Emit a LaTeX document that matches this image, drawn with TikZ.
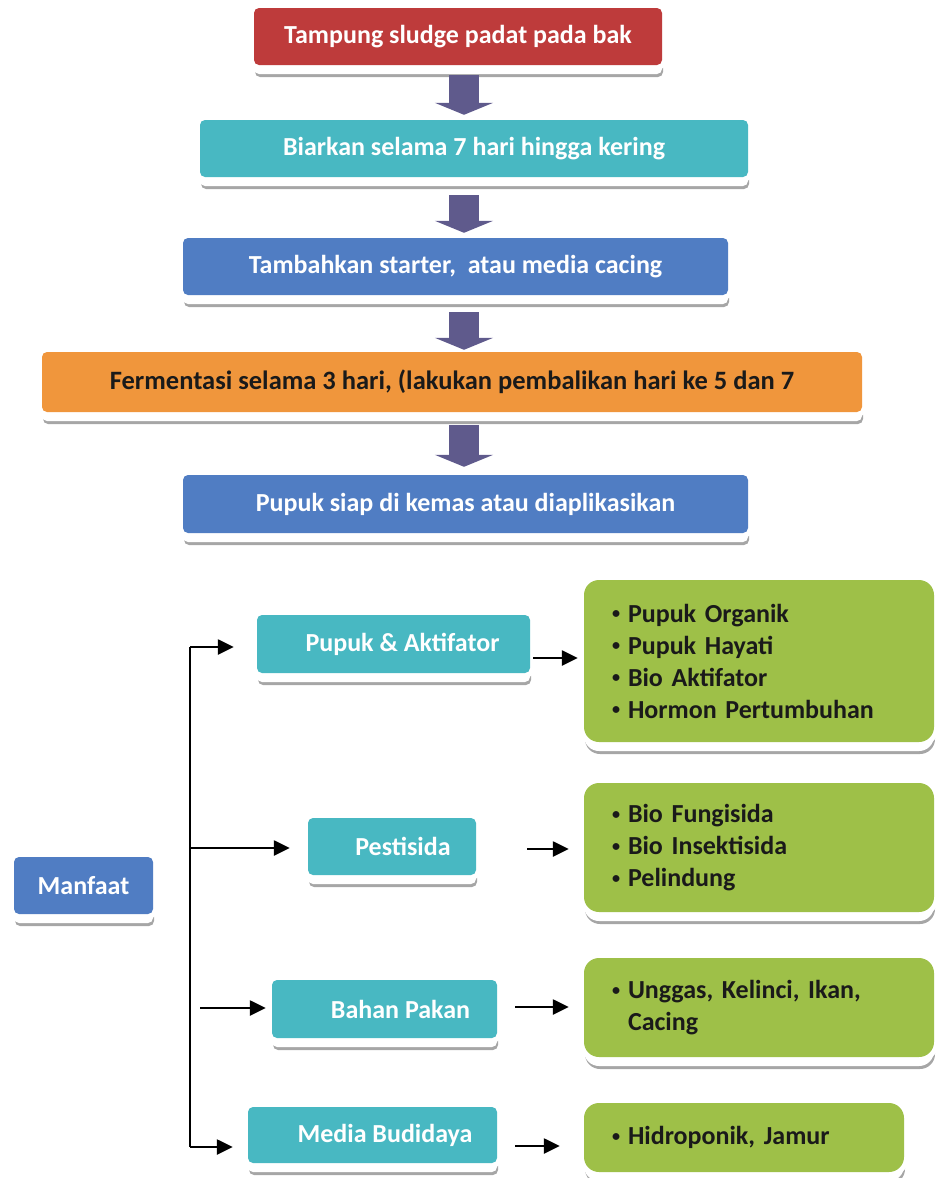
\documentclass[tikz,border=0pt]{standalone}
\usepackage{fontspec}
\setmainfont{Carlito}
\usetikzlibrary{shadows,arrows.meta}
\definecolor{cred}{HTML}{BE3B3B}
\definecolor{cteal}{HTML}{48B8C2}
\definecolor{cblue}{HTML}{507DC3}
\definecolor{corange}{HTML}{F0963C}
\definecolor{cgreen}{HTML}{9EC048}
\definecolor{carrow}{HTML}{5F5A8C}
\definecolor{ctext}{HTML}{1A1A1A}
\newcommand{\gbul}{\makebox[15pt][l]{\hspace{-1pt}\raisebox{0.13em}{\scalebox{0.62}{•}}}}
\begin{document}
\begin{tikzpicture}[x=1pt,y=-1pt,
  box/.style={rounded corners=5pt, inner sep=0pt, align=center, text=white,
    font=\bfseries\fontsize{26}{32}\selectfont,
    general shadow={fill=black!35, shadow xshift=1pt, shadow yshift=-12pt},
    general shadow={fill=white, shadow yshift=-9pt},
    preaction={draw=white, line width=10pt}},
  gbox/.style={box, fill=cgreen, rounded corners=15pt, text=ctext, align=left,
    inner xsep=29pt, inner ysep=0pt},
  bigarrow/.style={draw=carrow, line width=30pt, -{Triangle[length=12pt,width=58pt]}},
  arr/.style={line width=2.5pt, -{Triangle[length=16pt,width=15pt]}}
]
\useasboundingbox (0,0) rectangle (939,1178);

% top flow
\node[box, fill=cred, minimum width=408pt, minimum height=57pt] (n1) at (458,36.5) {Tampung sludge padat pada bak};
\node[box, fill=cteal, minimum width=548pt, minimum height=57pt] (n2) at (474,148.5) {Biarkan selama 7 hari hingga kering};
\node[box, fill=cblue, minimum width=545pt, minimum height=57pt] (n3) at (455.5,266.5) {Tambahkan starter,\ \ atau media cacing};
\node[box, fill=corange, text=ctext, minimum width=820pt, minimum height=60pt, font=\bfseries\fontsize{26.5}{32}\selectfont] (n4) at (452,382) {Fermentasi selama 3 hari, (lakukan pembalikan hari ke 5 dan 7};
\node[box, fill=cblue, minimum width=565pt, minimum height=58pt] (n5) at (465.5,504) {Pupuk siap di kemas atau diaplikasikan};

\draw[bigarrow, shorten <=10pt, shorten >=5pt] (464,0 |- n1.south) -- (464,0 |- n2.north);
\draw[bigarrow, shorten <=18pt, shorten >=5pt] (464,0 |- n2.south) -- (464,0 |- n3.north);
\draw[bigarrow, shorten <=17pt, shorten >=2pt] (464,0 |- n3.south) -- (464,0 |- n4.north);
\draw[bigarrow, shorten <=13pt, shorten >=8pt] (464,0 |- n4.south) -- (464,0 |- n5.north);

% bottom: Manfaat
\node[box, fill=cblue, minimum width=139pt, minimum height=57pt] (man) at (83.5,885.5) {Manfaat};

\node[box, fill=cteal, minimum width=273pt, minimum height=58pt] (pa) at (393.5,644) {\hspace*{18pt}Pupuk \& Aktifator};
\node[box, fill=cteal, minimum width=168pt, minimum height=57pt] (pe) at (392,846.5) {\hspace*{22pt}Pestisida};
\node[box, fill=cteal, minimum width=225pt, minimum height=58pt] (bp) at (384.5,1009) {\hspace*{32pt}Bahan Pakan};
\node[box, fill=cteal, minimum width=249pt, minimum height=56pt] (mb) at (372.5,1135) {\hspace*{25pt}Media Budidaya};

\node[gbox, text width=292pt, minimum width=350pt, minimum height=162pt] (g1) at (759,661)
  {\gbul Pupuk Organik\\\gbul Pupuk Hayati\\\gbul Bio Aktifator\\\gbul Hormon Pertumbuhan};
\node[gbox, text width=292pt, minimum width=350pt, minimum height=129pt] (g2) at (759,847.5)
  {\gbul Bio Fungisida\\\gbul Bio Insektisida\\\gbul Pelindung};
\node[gbox, text width=292pt, minimum width=350pt, minimum height=99pt] (g3) at (759,1007.5)
  {\gbul Unggas, Kelinci, Ikan,\\\hspace*{15pt}Cacing};
\node[gbox, text width=262pt, minimum width=320pt, minimum height=69pt] (g4) at (744,1137.5)
  {\gbul Hidroponik, Jamur};

% connectors
\coordinate (vtop) at (190,647);
\coordinate (vbot) at (190,1147);
\coordinate (vpe) at (190,848);
\coordinate (vbp) at (200,1008);
\draw[line width=2pt] (vtop) -- (vbot);
\draw[arr] (vtop) -- ([xshift=-23pt]pa.west |- vtop);
\draw[arr] (vpe) -- ([xshift=-18pt]pe.west |- vpe);
\draw[arr] (vbp) -- ([xshift=-6pt]bp.west |- vbp);
\draw[arr] (vbot) -- ([xshift=-15pt]mb.west |- vbot);

\draw[arr] ([xshift=3pt]pa.east |- 0,658) -- ([xshift=-6pt]g1.west |- 0,658);
\draw[arr] ([xshift=51pt]pe.east |- 0,849) -- ([xshift=-15pt]g2.west |- 0,849);
\draw[arr] ([xshift=18pt]bp.east |- 0,1007) -- ([xshift=-15pt]g3.west |- 0,1007);
\draw[arr] ([xshift=18pt]mb.east |- 0,1146) -- ([xshift=-24pt]g4.west |- 0,1146);
\end{tikzpicture}
\end{document}
